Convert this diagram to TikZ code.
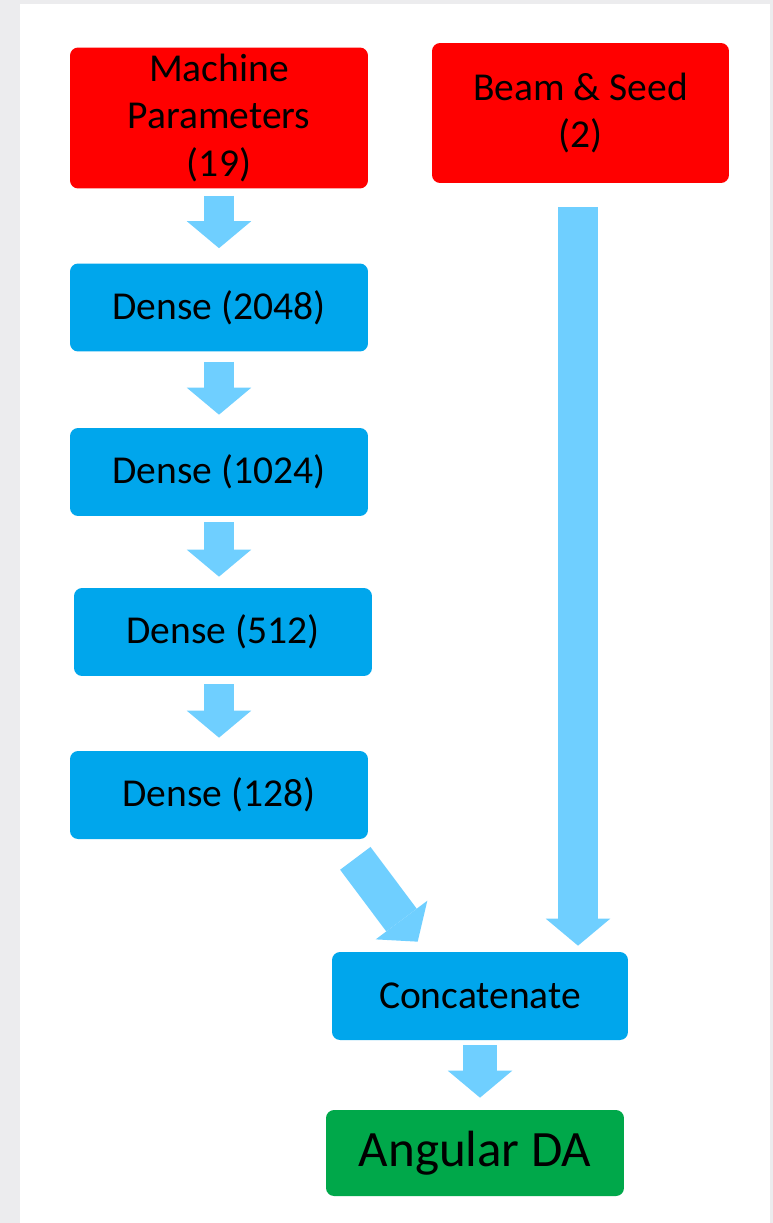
\documentclass[tikz,border=0pt]{standalone}
\usepackage{fontspec}
\setmainfont{Carlito}
\usepackage{tikz}
\usetikzlibrary{arrows.meta}

\begin{document}
\begin{tikzpicture}
		[x=0.02cm,y=-0.02cm,line cap=butt,
		%Styles
		layer node/.style={rounded corners=0.16cm,inner sep=0pt,align=center,text=black,
			font=\fontsize{22.5}{27}\selectfont},
		input node/.style={layer node,fill=inred,minimum width=5.96cm,minimum height=2.82cm},
		dense node/.style={layer node,fill=denseblue,minimum width=5.96cm,minimum height=1.76cm},
		output node/.style={layer node,fill=outgreen,minimum width=5.96cm,minimum height=1.72cm,
			font=\fontsize{29}{34}\selectfont},
		block arrow/.style={draw=arrowblue,line width=#1,
			-{Triangle[width=1.29cm,length=0.54cm,line width=0pt]}},
		block arrow/.default=0.6cm
		]
		
		%Colors
		\definecolor{inred}{HTML}{FF0000}
		\definecolor{denseblue}{HTML}{00A6EC}
		\definecolor{outgreen}{HTML}{00A84A}
		\definecolor{arrowblue}{HTML}{6FCFFF}
		\definecolor{framegray}{HTML}{ECECEE}
		
		%Background
		\fill[framegray] (0,0) rectangle (773,1223);
		\fill[white] (20,4) rectangle (770,1223);
		
		%The graphic
		\node[input node] (mp) at (219, 118) {Machine\\Parameters\\(19)};
		\node[input node,minimum width=5.94cm,minimum height=2.8cm] (beam) at (580.5, 113) {Beam \& Seed\\(2)};
		\node[dense node] (d1) at (219, 307.5) {Dense (2048)};
		\node[dense node] (d2) at (219, 472) {Dense (1024)};
		\node[dense node] (d3) at (223, 632) {Dense (512)};
		\node[dense node] (d4) at (219, 795) {Dense (128)};
		\node[dense node,minimum width=5.92cm] (cat) at (480, 996) {Concatenate};
		\node[output node] (out) at (475, 1153) {Angular DA};
		
		\draw[block arrow,shorten <=0.14cm,shorten >=0.3cm] (mp.south) -- (d1.north);
		\draw[block arrow,shorten <=0.2cm,shorten >=0.26cm] (d1.south) -- (d2.north);
		\draw[block arrow,shorten <=0.12cm,shorten >=0.22cm] (d2.south) -- (d2.south |- d3.north);
		\draw[block arrow,shorten <=0.16cm,shorten >=0.26cm] (d4.north |- d3.south) -- (d4.north);
		\draw[block arrow=0.76cm] ([xshift=-13*0.02cm,yshift=-19*0.02cm]d4.south east)
			-- ([xshift=86*0.02cm,yshift=10*0.02cm]cat.north west);
		\draw[block arrow=0.8cm,shorten <=0.48cm,shorten >=0.12cm] ([xshift=-2.5*0.02cm]beam.south)
			-- ([xshift=-2.5*0.02cm]beam.south |- cat.north);
		\draw[block arrow=0.68cm,shorten <=0.1cm,shorten >=0.24cm] (cat.south) -- (cat.south |- out.north);
	\end{tikzpicture}
\end{document}
